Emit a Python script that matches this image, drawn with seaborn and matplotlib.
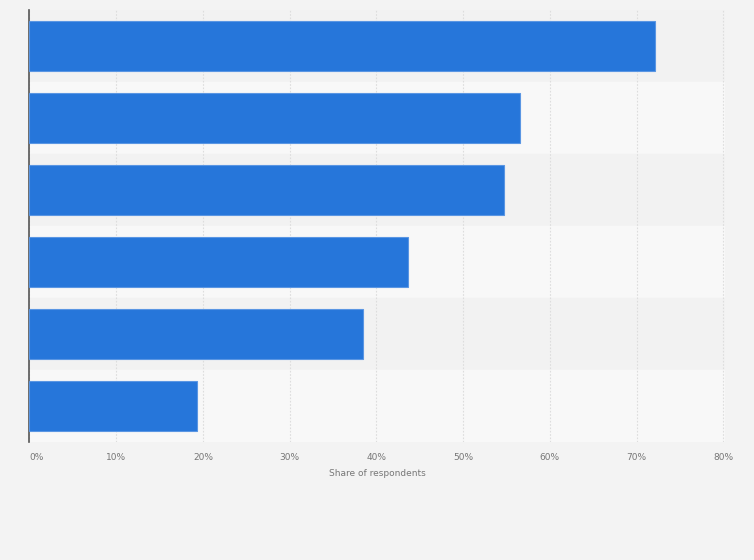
import matplotlib
matplotlib.use("Agg")
import matplotlib.pyplot as plt
import pandas as pd
import seaborn as sns

# Data (category names are not shown in the picture)
categories = ["Item 1", "Item 2", "Item 3", "Item 4", "Item 5", "Item 6"]
shares = [72.1, 56.6, 54.7, 43.6, 38.5, 19.3]
x_ticks = [0, 10, 20, 30, 40, 50, 60, 70, 80]
x_tick_labels = ["0%", "10%", "20%", "30%", "40%", "50%", "60%", "70%", "80%"]
x_label = "Share of respondents"

df = pd.DataFrame({"Category": categories, "Share": shares})

sns.set_theme(style="white")
plt.rcParams["font.family"] = ["DejaVu Sans"]

fig = plt.figure(figsize=(7.54, 5.6), dpi=100, facecolor="#f3f3f3")
ax = fig.add_axes([0.0391, 0.2107, 0.9224, 0.7715])
ax.set_facecolor("#f3f3f3")

# alternating row bands
for i in range(len(categories)):
    ax.axhspan(i - 0.5, i + 0.5, color="#f2f2f2" if i % 2 == 0 else "#f8f8f8", zorder=0)

sns.barplot(
    data=df, x="Share", y="Category", orient="h",
    color="#2676da", edgecolor="#5a96e3", linewidth=0.8,
    width=0.69, saturation=1, zorder=3, ax=ax,
)

ax.set_xlim(0, 80.2)
ax.set_ylim(len(categories) - 0.5, -0.5)
ax.set_xticks(x_ticks)
ax.set_xticklabels(x_tick_labels)
ax.xaxis.grid(True, color="#dddddd", linestyle=(0, (1.5, 1.5)), linewidth=0.8, zorder=1)
ax.set_axisbelow(True)

ax.tick_params(axis="x", length=0, labelsize=6.5, colors="#777777", pad=8)
ax.tick_params(axis="y", length=0, labelleft=False)
ax.get_xticklabels()[0].set_horizontalalignment("left")

ax.set_ylabel("")
ax.set_xlabel(x_label, fontsize=6.5, color="#777777", labelpad=5)

for side in ["top", "right", "bottom"]:
    ax.spines[side].set_visible(False)
ax.spines["left"].set_color("#555555")
ax.spines["left"].set_linewidth(1.2)

fig.savefig("out.png", dpi=100, facecolor=fig.get_facecolor())
plt.close(fig)
